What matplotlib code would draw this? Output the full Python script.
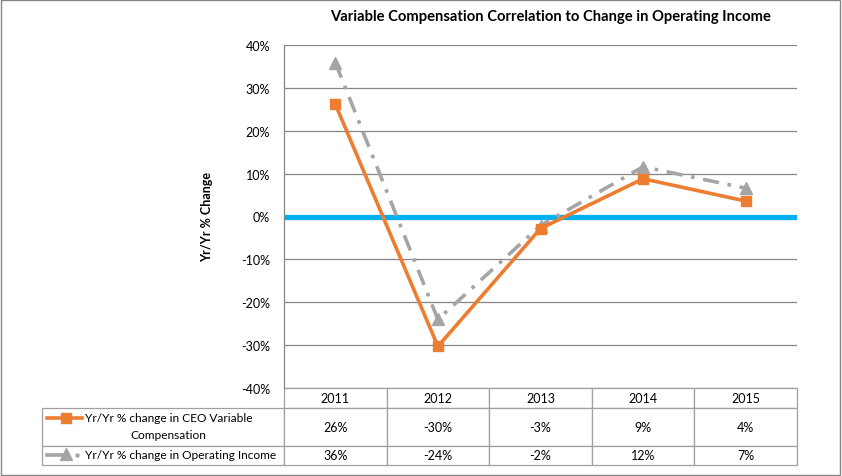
import matplotlib.pyplot as plt
from matplotlib.lines import Line2D
from matplotlib.patches import Rectangle

# data
years = ['2011', '2012', '2013', '2014', '2015']
ceo_comp = [26.2, -30.3, -2.8, 8.8, 3.6]
op_income = [35.9, -24.0, -2.1, 11.6, 6.6]
ceo_labels = ['26%', '-30%', '-3%', '9%', '4%']
inc_labels = ['36%', '-24%', '-2%', '12%', '7%']
series_names = ['Yr/Yr % change in CEO Variable\nCompensation',
                'Yr/Yr % change in Operating Income']
yticks = [-40, -30, -20, -10, 0, 10, 20, 30, 40]

orange = '#ED7D31'
grey = '#A5A5A5'
blue = '#00B0F0'
gridc = '#868686'

plt.rcParams['font.family'] = ['Lato', 'DejaVu Sans']

W, H = 842, 477
fig = plt.figure(figsize=(W / 100, H / 100), dpi=100)

def fx(px):
    return px / W

def fy(py):
    return 1 - py / H

ax = fig.add_axes([fx(284), fy(389), fx(797) - fx(284), fy(46) - fy(389)])
x = list(range(len(years)))

ax.set_xlim(-0.5, len(years) - 0.5)
ax.set_ylim(-40, 40)
ax.set_yticks(yticks)
ax.set_yticklabels([f'{v}%' for v in yticks], fontsize=9)
ax.set_xticks([])
ax.tick_params(axis='y', length=0, pad=10)
for v in yticks:
    if v != 0:
        ax.axhline(v, color=gridc, lw=0.9, zorder=1)
ax.axhline(0, color=blue, lw=3.8, zorder=2)
for s in ['top', 'right', 'bottom']:
    ax.spines[s].set_visible(False)
ax.spines['left'].set_color(gridc)
ax.spines['left'].set_linewidth(0.9)

ax.plot(x, op_income, color=grey, lw=2.6, ls=(0, (4.5, 2.4, 1, 2.4)),
        marker='^', ms=9, mfc=grey, mec=grey, zorder=3)
ax.plot(x, ceo_comp, color=orange, lw=2.6, marker='s', ms=7.5,
        mfc=orange, mec=orange, zorder=4)

ax.set_ylabel('Yr/Yr % Change', fontsize=9, fontweight='bold', labelpad=20)
fig.text(fx(551), fy(17), 'Variable Compensation Correlation to Change in Operating Income',
         ha='center', va='center', fontsize=10.6, fontweight='bold')

# data table under the plot (first column holds the series names)
tbl = ax.table(cellText=[[''] + ceo_labels, [''] + inc_labels],
               colLabels=[''] + years, cellLoc='center',
               bbox=[(42 - 284) / 513, (389 - 466) / 343, (797 - 42) / 513, (466 - 389) / 343])
tbl.auto_set_font_size(False)
tbl.set_fontsize(9)
heights = {0: 20, 1: 38, 2: 19}
for (r, c), cell in tbl.get_celld().items():
    cell.set_height(heights[r])
    cell.set_width((284 - 42) if c == 0 else (797 - 284) / len(years))
    cell.set_edgecolor('#A0A0A0')
    cell.set_linewidth(0.9)
    if r == 0 and c == 0:
        cell.set_visible(False)

# row labels with legend keys
fig.text(fx(85), fy(427), series_names[0], ha='left', va='center',
         multialignment='center', fontsize=8.6, linespacing=1.65)
fig.text(fx(85), fy(456), series_names[1], ha='left', va='center', fontsize=8.6)
fig.add_artist(Line2D([fx(47), fx(82)], [fy(419), fy(419)], color=orange, lw=2.6,
                      transform=fig.transFigure))
fig.add_artist(Line2D([fx(66)], [fy(419)], color=orange, marker='s', ms=7,
                      transform=fig.transFigure))
fig.add_artist(Line2D([fx(47), fx(64)], [fy(456), fy(456)], color=grey, lw=2.6,
                      transform=fig.transFigure))
fig.add_artist(Line2D([fx(77)], [fy(456)], color=grey, marker='o', ms=2.2,
                      transform=fig.transFigure))
fig.add_artist(Line2D([fx(66)], [fy(455)], color=grey, marker='^', ms=8,
                      transform=fig.transFigure))

# outer border
fig.add_artist(Rectangle((0.001, 0.002), 0.997, 0.996, transform=fig.transFigure,
                         fill=False, ec=gridc, lw=1))

fig.savefig('out.png', dpi=100)
